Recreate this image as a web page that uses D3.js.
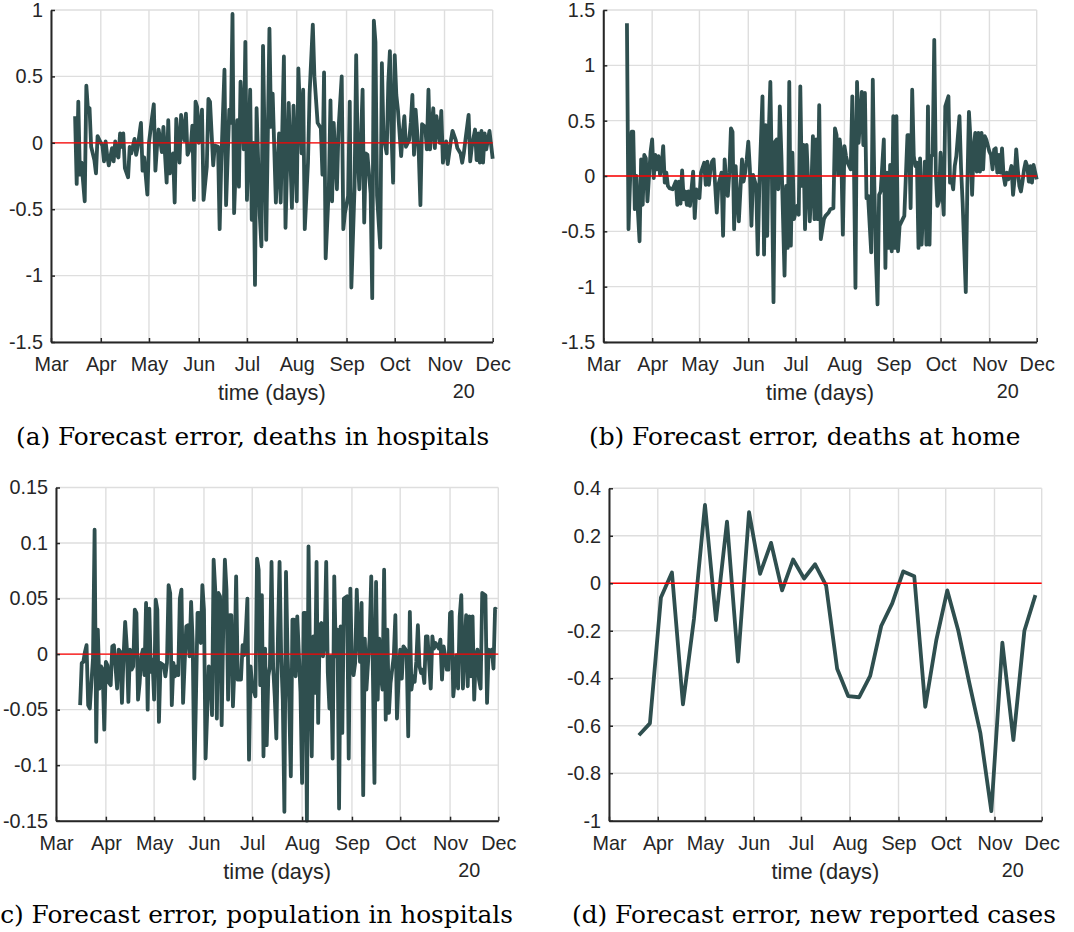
<!DOCTYPE html>
<html>
<head>
<meta charset="utf-8">
<script src="https://cdn.jsdelivr.net/npm/d3@7"></script>
<style>
  body { margin: 0; background: #fff; }
</style>
</head>
<body>
<div id="chart"></div>
<script>
var svgWidth = 1074;
var svgHeight = 932;

// time axis runs from 1 Mar to 1 Dec 2020, data days are offsets from 1 Mar
var startDay = new Date(2020, 2, 1);
var endDay = new Date(2020, 11, 1);

var monthLabels = ["Mar", "Apr", "May", "Jun", "Jul", "Aug", "Sep", "Oct", "Nov", "Dec"];
var yearLabel = "20";
var xTitle = "time (days)";

var yTicksHospDeaths = [-1.5, -1, -0.5, 0, 0.5, 1];
var yTicksHomeDeaths = [-1.5, -1, -0.5, 0, 0.5, 1, 1.5];
var yTicksHospPop = [-0.15, -0.1, -0.05, 0, 0.05, 0.1, 0.15];
var yTicksNewCases = [-1, -0.8, -0.6, -0.4, -0.2, 0, 0.2, 0.4];

var captions = [
  "(a) Forecast error, deaths in hospitals",
  "(b) Forecast error, deaths at home",
  "(c) Forecast error, population in hospitals",
  "(d) Forecast error, new reported cases"
];

// (a) deaths in hospitals
var hospDeathDays = [15,16,17,18,19,21,22,23,24,25,27,28,29,31,32,33,34,35,36,38,
  39,40,41,42,43,44,45,46,48,49,50,52,53,54,56,57,58,60,61,63,
  64,65,66,67,69,70,72,73,74,76,77,78,80,81,83,84,85,87,88,89,
  90,91,92,94,95,97,98,99,101,102,104,105,106,108,109,111,112,113,114,116,
  117,118,120,121,122,124,125,126,127,128,130,131,132,134,136,137,138,140,142,143,
  145,146,148,150,151,153,154,156,157,158,160,161,163,164,166,168,169,170,171,173,
  174,175,176,178,179,181,182,183,185,186,187,189,190,191,192,194,195,196,197,199,
  200,201,202,203,205,206,207,209,210,211,212,213,214,215,216,218,219,220,221,223,
  224,225,226,227,229,230,231,233,234,235,236,238,239,240,242,243,244,246,247,249,
  250,252,253,255,256,257,258,260,261,262,264,265,266,267,268,269,270,271,273,275];
var hospDeathErr = [0.20,-0.31,0.31,-0.24,-0.15,-0.44,0.43,0.25,0.26,-0.03,
  -0.13,-0.23,0.05,0.00,-0.02,-0.14,0.01,-0.10,-0.17,-0.04,
  -0.14,0.01,-0.09,-0.11,0.07,-0.03,0.07,-0.19,-0.26,-0.03,
  -0.08,0.03,-0.09,-0.03,0.15,-0.21,-0.11,-0.39,0.00,0.20,
  0.29,-0.21,-0.03,0.10,-0.07,0.12,-0.30,0.17,-0.23,-0.08,
  -0.45,0.18,-0.15,0.21,0.02,0.22,-0.09,-0.03,0.13,-0.43,
  0.31,0.27,0.00,0.25,-0.43,-0.18,0.33,0.31,-0.17,-0.02,
  -0.03,-0.65,-0.15,0.55,-0.47,0.25,0.15,0.97,-0.53,0.17,
  -0.33,0.46,-0.05,0.76,-0.43,0.40,-0.58,0.00,-1.07,0.26,
  -0.55,-0.78,0.73,-0.73,0.86,0.12,0.37,-0.45,0.07,-0.45,
  0.65,-0.64,0.30,-0.49,0.28,-0.44,0.56,-0.08,0.40,-0.65,
  -0.15,0.37,0.89,0.50,0.15,0.11,-0.24,0.53,-0.87,-0.33,
  0.32,-0.44,0.15,-0.35,0.10,0.50,-0.65,-0.53,-0.40,0.31,
  -1.09,-0.33,0.66,-0.11,-0.35,0.40,-0.60,-0.08,-0.09,-0.38,
  -1.17,0.92,0.76,-0.40,-0.79,0.60,0.05,-0.08,0.45,0.69,
  0.07,-0.30,0.66,0.36,0.25,-0.10,0.07,0.20,-0.03,0.02,
  0.15,0.36,-0.09,0.25,-0.09,-0.47,0.14,0.12,-0.05,0.40,
  -0.05,0.26,-0.04,0.20,0.00,0.24,-0.15,0.01,-0.16,0.02,
  0.09,0.02,-0.04,-0.08,-0.15,-0.08,0.02,0.21,-0.14,-0.03,
  0.10,-0.13,0.07,-0.15,0.09,-0.15,0.07,-0.05,0.09,-0.12];

// (b) deaths at home
var homeDeathDays = [15,16,18,19,20,21,22,23,24,25,26,27,28,30,31,32,33,34,35,36,
  37,38,39,40,41,42,44,46,47,48,49,50,51,52,53,54,55,57,58,59,
  60,61,62,64,65,66,67,68,69,70,71,72,73,75,76,77,78,79,80,81,
  82,83,84,85,86,88,89,90,91,92,93,94,95,97,98,99,101,102,103,104,
  105,106,107,108,109,110,111,112,113,115,116,117,118,119,120,121,123,124,125,126,
  127,128,129,131,132,133,134,135,136,137,138,140,141,143,144,146,147,148,149,150,
  151,152,153,154,155,157,158,159,160,161,162,164,165,166,167,168,170,171,172,173,
  174,175,176,178,179,180,181,182,183,184,185,186,187,188,190,191,193,194,195,196,
  197,198,199,200,201,202,204,205,206,207,208,209,210,211,212,213,214,215,216,217,
  219,220,221,222,223,224,226,227,228,230,231,232,233,234,235,236,237,238,239,240,
  241,242,243,245,246,247,248,249,250,251,252,253,254,255,256,257,259,260,261,262,
  263,264,265,266,267,268,269,270,271,272,273,275];
var homeDeathErr = [1.38,-0.48,0.40,0.40,-0.30,0.00,-0.33,-0.59,0.15,-0.26,
  0.19,0.16,-0.23,0.22,0.33,-0.02,0.19,0.06,0.18,0.01,
  0.09,0.27,-0.06,0.03,-0.09,-0.11,-0.12,-0.05,-0.26,-0.05,
  -0.25,0.05,-0.21,-0.14,-0.26,-0.14,-0.27,0.04,-0.38,-0.12,
  -0.15,-0.20,0.03,0.12,-0.08,0.13,-0.08,0.06,0.13,0.15,
  -0.09,-0.33,-0.08,0.03,-0.54,0.15,-0.05,-0.18,0.03,0.43,
  0.40,-0.48,0.09,-0.21,-0.41,0.15,-0.05,0.03,0.15,0.31,
  0.07,-0.45,0.01,-0.09,-0.71,-0.09,0.72,-0.71,0.46,-0.54,
  0.39,0.85,-0.03,-1.14,0.31,0.33,-0.12,0.63,0.19,-0.90,
  -0.09,-0.65,0.85,-0.63,0.21,-0.39,-0.27,-0.35,0.81,-0.09,
  0.28,-0.48,0.28,-0.41,-0.12,0.36,-0.39,0.33,-0.39,0.64,
  -0.57,-0.39,-0.36,-0.33,-0.30,-0.29,0.43,0.37,0.01,0.33,
  0.19,-0.53,0.27,0.18,0.12,0.06,0.72,0.15,-1.01,0.85,
  0.30,0.76,0.28,0.75,-0.20,-0.18,-0.69,0.87,-0.09,-0.75,
  -1.16,-0.17,-0.14,0.33,-0.83,0.03,-0.65,0.10,-0.68,0.54,
  -0.65,0.54,-0.68,-0.45,-0.39,-0.36,0.37,0.37,-0.29,0.78,
  0.18,0.09,0.12,-0.65,0.16,-0.62,0.13,-0.62,0.63,-0.62,
  0.18,0.19,1.23,0.03,-0.27,-0.23,0.21,-0.12,-0.35,0.63,
  0.72,-0.06,-0.03,-0.12,0.09,0.18,0.54,0.07,-0.24,-1.05,
  -0.09,0.58,0.33,-0.17,0.24,0.39,0.04,0.39,0.04,0.39,
  0.06,0.36,0.33,0.22,0.19,0.06,0.24,0.25,0.03,0.19,
  0.03,0.25,0.00,-0.08,0.03,-0.03,0.09,-0.17,-0.02,0.24,
  0.06,-0.09,-0.14,-0.05,0.06,0.13,0.09,-0.05,0.09,-0.06,
  0.10,-0.03];

// (c) population in hospitals
var hospPopDays = [15,16,17,18,19,20,21,22,23,24,25,26,27,28,29,30,31,32,33,34,
  35,36,38,39,40,41,42,43,44,45,46,47,48,49,50,51,52,53,54,55,
  56,57,58,59,60,61,62,63,64,65,67,68,69,70,71,72,73,74,75,76,
  77,78,79,80,81,82,83,84,85,86,87,88,89,90,91,92,93,95,96,97,
  98,99,100,101,102,103,104,105,106,107,108,109,110,111,112,113,114,115,116,117,
  118,119,120,121,122,124,125,126,127,128,129,130,131,132,133,134,135,136,137,138,
  139,140,141,142,143,144,145,146,147,148,149,150,152,153,154,155,156,157,158,159,
  160,161,162,163,164,165,166,167,168,169,170,171,172,173,174,175,176,177,178,179,
  181,182,183,184,185,186,187,188,189,190,191,192,193,194,195,196,197,198,199,200,
  201,202,203,204,205,206,207,208,210,211,212,213,214,215,216,217,218,219,220,221,
  222,223,224,225,226,227,228,229,230,231,232,233,234,235,236,238,239,240,241,242,
  243,244,245,246,247,248,249,250,251,252,253,254,255,256,257,258,259,260,261,262,
  263,264,265,267,268,269,270,271,272,273,274];
var hospPopErr = [-0.046,-0.008,-0.007,0.002,0.008,-0.046,-0.049,-0.026,-0.004,0.112,
  -0.079,0.022,-0.031,-0.011,-0.014,-0.068,-0.007,-0.010,-0.026,-0.028,
  0.007,0.008,-0.031,0.004,0.002,-0.044,-0.002,0.029,0.007,-0.043,
  0.004,-0.014,-0.011,0.040,0.037,-0.041,-0.026,-0.002,0.004,-0.019,
  0.046,-0.050,0.041,-0.016,-0.005,-0.041,0.049,0.040,-0.061,-0.008,
  -0.010,-0.020,-0.008,0.062,0.055,-0.046,-0.008,-0.020,-0.011,-0.019,
  0.050,0.058,-0.044,-0.008,0.025,0.026,-0.002,0.047,0.010,-0.112,
  -0.041,0.037,0.037,0.010,0.062,0.040,-0.094,-0.011,-0.014,-0.055,
  0.085,0.058,-0.058,0.055,0.052,-0.064,0.025,0.085,0.058,-0.041,
  0.035,0.035,-0.047,-0.010,0.070,-0.023,-0.023,-0.023,0.008,-0.001,
  0.019,0.050,-0.095,-0.011,-0.029,-0.038,0.086,0.076,-0.028,0.053,
  -0.092,0.005,-0.082,-0.020,-0.011,0.083,-0.011,-0.038,-0.076,0.016,
  0.083,-0.002,-0.041,-0.142,0.074,-0.001,-0.044,-0.110,0.031,0.031,
  -0.020,0.034,-0.034,-0.116,0.037,0.037,-0.150,0.097,-0.014,-0.092,
  0.016,-0.035,0.083,-0.062,0.026,0.028,-0.002,0.010,0.083,-0.017,
  -0.049,-0.002,-0.094,0.070,-0.002,0.022,-0.139,0.025,-0.071,0.050,
  0.052,-0.094,0.059,-0.011,-0.019,-0.008,0.058,0.014,-0.007,0.046,
  -0.127,0.014,-0.032,-0.008,0.014,0.070,-0.014,-0.116,0.065,-0.041,
  0.014,-0.020,-0.032,0.076,-0.059,0.022,-0.053,-0.026,-0.002,0.035,
  -0.058,-0.023,0.004,-0.022,0.007,0.005,0.002,-0.074,0.038,-0.032,
  -0.020,-0.025,-0.007,0.026,-0.011,-0.017,-0.014,-0.026,0.016,0.016,
  -0.008,-0.031,0.016,0.005,0.010,0.005,0.013,-0.023,0.007,-0.002,
  -0.014,-0.014,0.037,0.038,-0.038,-0.023,-0.001,-0.031,0.034,0.053,
  -0.031,0.004,0.035,-0.029,0.034,-0.020,0.034,-0.041,-0.002,0.004,
  -0.023,-0.031,0.055,0.053,-0.044,0.004,-0.002,0.004,-0.013,0.041,
  0.040];

// (d) new reported cases, weekly
var newCaseDays = [19,26,33,40,47,54,61,68,75,82,89,96,103,110,117,124,131,138,145,152,
  159,166,173,180,187,194,201,208,215,222,229,236,243,250,257,264,271];
var newCaseErr = [-0.64,-0.59,-0.06,0.045,-0.51,-0.15,0.33,-0.155,0.26,-0.33,
  0.30,0.04,0.17,-0.03,0.10,0.02,0.08,-0.01,-0.36,-0.475,
  -0.48,-0.39,-0.18,-0.085,0.05,0.03,-0.52,-0.24,-0.03,-0.2,
  -0.42,-0.63,-0.96,-0.25,-0.66,-0.2,-0.05];

// panel placement on the page
var panels = [
  {days: hospDeathDays, values: hospDeathErr, yTicks: yTicksHospDeaths, caption: captions[0],
   left: 51, right: 492.7, top: 10, bottom: 342, capX: 16, capAnchor: "start", capY: 445},
  {days: homeDeathDays, values: homeDeathErr, yTicks: yTicksHomeDeaths, caption: captions[1],
   left: 603.3, right: 1036.7, top: 10, bottom: 342, capX: 589, capAnchor: "start", capY: 445},
  {days: hospPopDays, values: hospPopErr, yTicks: yTicksHospPop, caption: captions[2],
   left: 56, right: 498.3, top: 487.5, bottom: 820.7, capX: 513, capAnchor: "end", capY: 923},
  {days: newCaseDays, values: newCaseErr, yTicks: yTicksNewCases, caption: captions[3],
   left: 609, right: 1041.7, top: 488.3, bottom: 820.7, capX: 572, capAnchor: "start", capY: 923}
];

var lineColor = "#2f4f4f";
var axisColor = "#262626";
var gridColor = "#dedede";
var sansFont = "'Liberation Sans', Arial, Helvetica, sans-serif";
var serifFont = "'DejaVu Serif', serif";

var svg = d3.select("#chart")
  .append("svg")
  .attr("width", svgWidth)
  .attr("height", svgHeight);

var monthDates = d3.timeMonth.range(startDay, d3.timeDay.offset(endDay, 1));

function drawPanel(p) {
  var xScale = d3.scaleTime()
    .domain([startDay, endDay])
    .range([p.left, p.right]);

  var yScale = d3.scaleLinear()
    .domain([p.yTicks[0], p.yTicks[p.yTicks.length - 1]])
    .range([p.bottom, p.top]);

  var g = svg.append("g");

  // grid lines
  g.append("g").selectAll("line")
    .data(monthDates)
    .enter()
    .append("line")
    .attr("x1", d => xScale(d))
    .attr("x2", d => xScale(d))
    .attr("y1", p.top)
    .attr("y2", p.bottom)
    .attr("stroke", gridColor)
    .attr("stroke-width", 1.4);

  g.append("g").selectAll("line")
    .data(p.yTicks)
    .enter()
    .append("line")
    .attr("x1", p.left)
    .attr("x2", p.right)
    .attr("y1", d => yScale(d))
    .attr("y2", d => yScale(d))
    .attr("stroke", gridColor)
    .attr("stroke-width", 1.4);

  // the error series
  var points = d3.zip(p.days, p.values);
  var line = d3.line()
    .x(d => xScale(d3.timeDay.offset(startDay, d[0])))
    .y(d => yScale(d[1]));

  g.append("path")
    .datum(points)
    .attr("d", line)
    .attr("fill", "none")
    .attr("stroke", lineColor)
    .attr("stroke-width", 3.8)
    .attr("stroke-linejoin", "round");

  // zero reference line
  g.append("line")
    .attr("x1", p.left)
    .attr("x2", p.right)
    .attr("y1", yScale(0))
    .attr("y2", yScale(0))
    .attr("stroke", "#ff0000")
    .attr("stroke-width", 1.3);

  // axes
  var bottomAxis = d3.axisBottom(xScale)
    .tickValues(monthDates)
    .tickFormat((d, i) => monthLabels[i])
    .tickSizeInner(-4)
    .tickSizeOuter(0)
    .tickPadding(15);

  var leftAxis = d3.axisLeft(yScale)
    .tickValues(p.yTicks)
    .tickFormat(d => String(d))
    .tickSizeInner(-4)
    .tickSizeOuter(0)
    .tickPadding(8);

  var xAxis = g.append("g")
    .attr("transform", `translate(0, ${p.bottom})`)
    .call(bottomAxis);

  var yAxis = g.append("g")
    .attr("transform", `translate(${p.left}, 0)`)
    .call(leftAxis);

  [xAxis, yAxis].forEach(function(ax) {
    ax.attr("font-family", sansFont).attr("font-size", 19.8);
    ax.select(".domain").attr("stroke", axisColor).attr("stroke-width", 2);
    ax.selectAll(".tick line").attr("stroke", axisColor).attr("stroke-width", 1.5);
    ax.selectAll(".tick text").attr("fill", axisColor);
  });

  // axis title and year marker
  g.append("text")
    .attr("x", (p.left + p.right) / 2)
    .attr("y", p.bottom + 58)
    .attr("text-anchor", "middle")
    .attr("font-family", sansFont)
    .attr("font-size", 21.8)
    .attr("fill", axisColor)
    .text(xTitle);

  g.append("text")
    .attr("x", p.right - 29)
    .attr("y", p.bottom + 56)
    .attr("text-anchor", "middle")
    .attr("font-family", sansFont)
    .attr("font-size", 19.8)
    .attr("fill", axisColor)
    .text(yearLabel);

  // sub-figure caption
  g.append("text")
    .attr("x", p.capX)
    .attr("y", p.capY)
    .attr("text-anchor", p.capAnchor)
    .attr("font-family", serifFont)
    .attr("font-size", 24.8)
    .attr("fill", "#000")
    .text(p.caption);
}

panels.forEach(drawPanel);
</script>
</body>
</html>
